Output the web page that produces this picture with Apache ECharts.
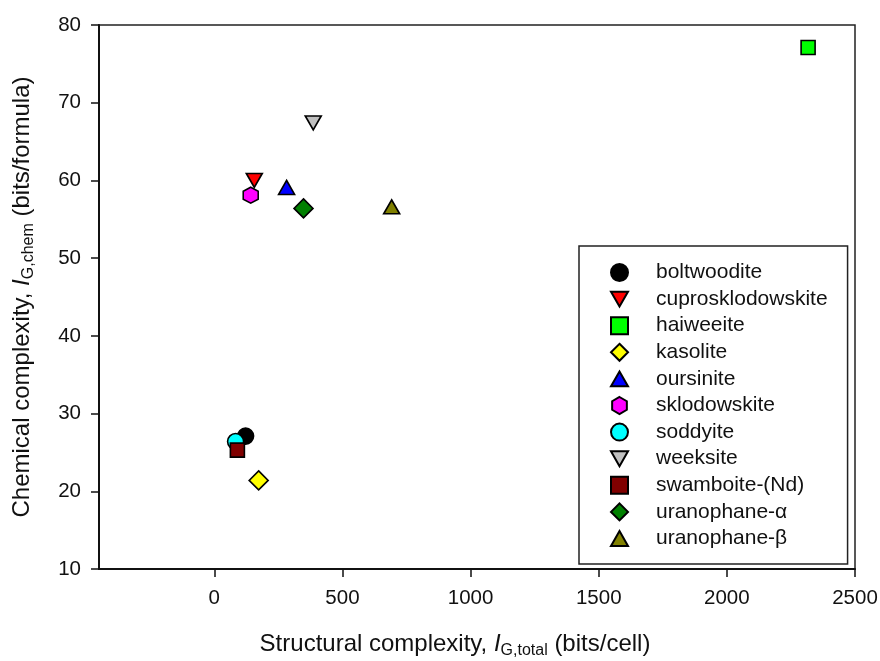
<!DOCTYPE html>
<html>
<head>
<meta charset="utf-8">
<script src="https://cdn.jsdelivr.net/npm/echarts@6/dist/echarts.min.js"></script>
<style>
  html, body { margin: 0; padding: 0; background: #fff; }
  #chart { width: 880px; height: 661px; }
</style>
</head>
<body>
<div id="chart"></div>
<script>
// minerals, in legend order
var minerals = ["boltwoodite", "cuprosklodowskite", "haiweeite", "kasolite", "oursinite",
  "sklodowskite", "soddyite", "weeksite", "swamboite-(Nd)", "uranophane-\u03b1", "uranophane-\u03b2"];
// structural complexity, IG,total (bits/cell)
var structural = [122, 156, 2317, 173, 282, 142, 83, 386, 90, 348, 692];
// chemical complexity, IG,chem (bits/formula)
var chemical = [27.1, 60.0, 77.1, 21.4, 59.1, 58.1, 26.4, 67.4, 25.3, 56.4, 56.6];
var xTicks = [0, 500, 1000, 1500, 2000, 2500];

var DOWN = "path://M0,0 L2,0 L1,1.75 Z";
var UP = "path://M1,0 L2,1.75 L0,1.75 Z";
var HEX = "path://M0.866,0 L1.732,0.5 L1.732,1.5 L0.866,2 L0,1.5 L0,0.5 Z";
var markerColors = ["#000000", "#ff0000", "#00ff00", "#ffff00", "#0000ff",
  "#ff00ff", "#00ffff", "#c0c0c0", "#800000", "#008000", "#808000"];
var markerShapes = ["circle", DOWN, "rect", "diamond", UP, HEX, "circle", DOWN, "rect", "diamond", UP];
var markerSizes = [16, [16, 14], 14, 19, [16, 14], [15, 16], 16, [16, 14], 14, 19, [16, 14]];

var chart = echarts.init(document.getElementById("chart"));

var series = [];
for (var i = 0; i < minerals.length; i++) {
  series.push({
    name: minerals[i],
    type: "scatter",
    symbol: markerShapes[i],
    symbolSize: markerSizes[i],
    symbolKeepAspect: false,
    data: [[structural[i], chemical[i]]],
    itemStyle: {
      color: markerColors[i],
      borderColor: "#000",
      borderWidth: 1.6,
      opacity: 1,
    },
    emphasis: { disabled: true },
  });
}

var font = "Liberation Sans, Arial, sans-serif";
var nameRich = {
  n: { fontFamily: font, fontSize: 24, color: "#111", lineHeight: 30 },
  i: { fontFamily: font, fontSize: 24, color: "#111", fontStyle: "italic", lineHeight: 30 },
  s: { fontFamily: font, fontSize: 16, color: "#111", verticalAlign: "bottom", lineHeight: 16 },
};

var option = {
  backgroundColor: "#fff",
  animation: false,
  textStyle: { fontFamily: font },
  grid: {
    left: 99,
    right: 25,
    top: 25,
    bottom: 92,
    outerBoundsMode: "none",
    show: true,
    borderColor: "#222",
    borderWidth: 1.5,
  },
  legend: {
    orient: "vertical",
    left: 579,
    top: 246,
    padding: [16, 20, 15, 31],
    itemWidth: 17,
    itemHeight: 17,
    itemGap: 5.6,
    backgroundColor: "#fff",
    borderColor: "#222",
    borderWidth: 1.5,
    data: minerals,
    textStyle: {
      fontFamily: font,
      fontSize: 21,
      lineHeight: 21,
      color: "#111",
      padding: [0, 0, 0, 23],
    },
  },
  xAxis: {
    type: "value",
    min: -450,
    max: 2500,
    name: "{n|Structural complexity, }{i|I}{s|G,total}{n| (bits/cell)}",
    nameLocation: "middle",
    nameGap: 60,
    nameTextStyle: {
      padding: [0, 44, 0, 0],
      rich: nameRich,
    },
    axisLine: { show: true, onZero: false, lineStyle: { color: "#111", width: 2 } },
    axisTick: { show: true, inside: false, length: 8, customValues: xTicks, lineStyle: { color: "#111", width: 1.5 } },
    axisLabel: {
      customValues: xTicks,
      fontSize: 20.5,
      color: "#111",
      margin: 19,
      fontFamily: font,
      formatter: function (v) { return String(v); },
    },
    splitLine: { show: false },
  },
  yAxis: {
    type: "value",
    min: 10,
    max: 80,
    interval: 10,
    name: "{n|Chemical complexity, }{i|I}{s|G,chem}{n| (bits/formula)}",
    nameLocation: "middle",
    nameRotate: 90,
    nameGap: 62,
    nameTextStyle: {
      rich: nameRich,
    },
    axisLine: { show: true, onZero: false, lineStyle: { color: "#111", width: 2 } },
    axisTick: { show: true, inside: false, length: 8, lineStyle: { color: "#111", width: 1.5 } },
    axisLabel: { fontSize: 20.5, color: "#111", margin: 18, fontFamily: font },
    splitLine: { show: false },
  },
  series: series,
};

chart.setOption(option);
</script>
</body>
</html>
